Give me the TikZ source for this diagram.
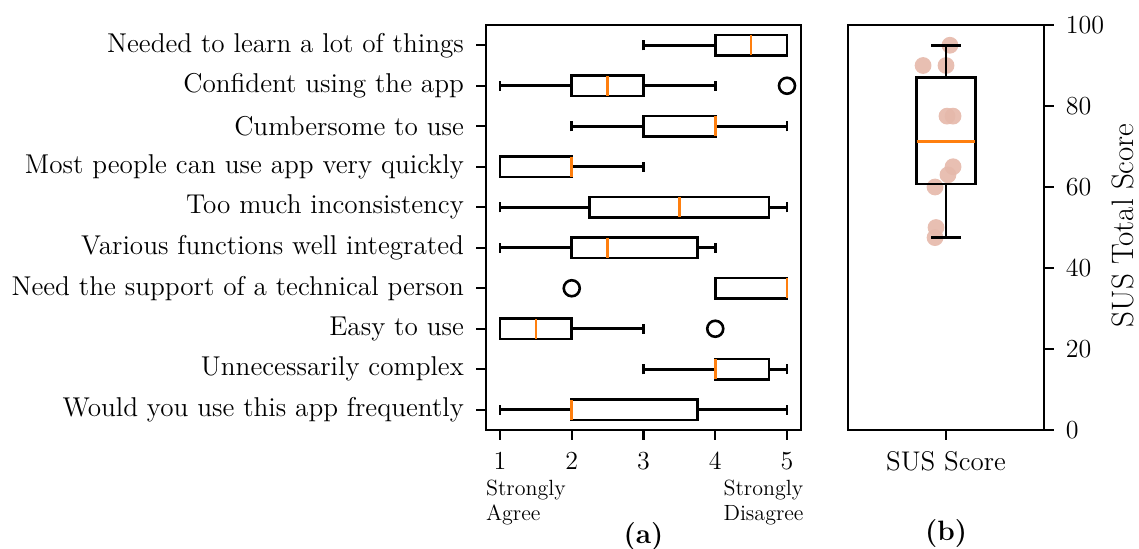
\documentclass[tikz,border=0pt]{standalone}
\definecolor{mplorange}{HTML}{FF7F0E}
\definecolor{dotpink}{RGB}{229,184,170}
\begin{document}
\begin{tikzpicture}[x=0.5pt,y=0.5pt]
    \tikzstyle{every node}=[font=\fontsize{13}{15}\selectfont]
    \tikzstyle{ax}=[line width=1.1pt]
    \tikzstyle{bx}=[line width=1.3pt]
    \tikzstyle{med}=[line width=1.3pt, mplorange]
    \tikzstyle{flier}=[line width=1.3pt, radius=4pt]
    \tikzstyle{endlab}=[anchor=north west, align=left, inner sep=0pt, font=\fontsize{11}{12.5}\selectfont]
    \useasboundingbox (0,0) rectangle (1139,548);
    % panel (a): questionnaire items
    \begin{scope}[shift={(428.25,97.75)}, x=35.875pt, y=20.25pt]
    \draw[ax] (0.8,0.5) rectangle (5.2,10.5);
    \foreach \v in {1,...,5}
        \draw[ax] (\v,0.5) -- ++(0,-5pt) node[below=2pt]{\v};
    \foreach \r/\lab in {1/Would you use this app frequently, 2/Unnecessarily complex,
        3/Easy to use, 4/Need the support of a technical person,
        5/Various functions well integrated, 6/Too much inconsistency,
        7/Most people can use app very quickly, 8/Cumbersome to use,
        9/Confident using the app, 10/Needed to learn a lot of things}
        \draw[ax] (0.8,\r) -- ++(-5pt,0) node[left=2pt, font=\fontsize{13.6}{15}\selectfont]{\lab};
    \foreach \r/\lw/\qa/\md/\qb/\uw in {1/1/2/2/3.75/5, 2/3/4/4/4.75/5, 3/1/1/1.5/2/3,
        4/4/4/5/5/5, 5/1/2/2.5/3.75/4, 6/1/2.25/3.5/4.75/5, 7/1/1/2/2/3,
        8/2/3/4/4/5, 9/1/2/2.5/3/4, 10/3/4/4.5/5/5} {
        \draw[bx] (\lw,\r) -- (\qa,\r) (\qb,\r) -- (\uw,\r);
        \draw[bx] (\lw,\r-0.125) -- (\lw,\r+0.125) (\uw,\r-0.125) -- (\uw,\r+0.125);
        \draw[bx] (\qa,\r-0.25) rectangle (\qb,\r+0.25);
        \draw[med] (\md,\r-0.25) -- (\md,\r+0.25);
    }
    \foreach \v/\r in {5/9, 2/4, 4/3}
        \draw[flier] (\v,\r) circle;
    \node[endlab] (agree) at (0.8,-0.72) {Strongly\\Agree};
    \node[endlab] (disagree) at (4.11,-0.72) {Strongly\\Disagree};
    \node[font=\fontsize{14}{16}\selectfont\bfseries] (capa) at (3,-2.12) {(a)};
    \end{scope}
    % panel (b): total score
    \begin{scope}[shift={(750,118)}, x=98pt, y=2.025pt]
    \foreach \px/\py in {0.883/90, 1.02/95, 1.0/90, 1.005/77.5, 1.036/77.5,
        1.036/65, 1.01/63, 0.944/60, 0.949/50, 0.944/47.5}
        \fill[dotpink, opacity=0.9] (\px,\py) circle[radius=4.2pt];
    \draw[ax] (0.5,0) rectangle (1.5,100);
    \foreach \v in {0,20,...,100}
        \draw[ax] (1.5,\v) -- ++(5pt,0) node[right=2pt]{\v};
    \draw[ax] (1,0) -- ++(0,-5pt) node[below=2pt, font=\fontsize{13.5}{15}\selectfont]{SUS Score};
    \draw[bx] (1,47.5) -- (1,60.7) (1,87) -- (1,95);
    \draw[bx] (0.925,47.5) -- (1.075,47.5) (0.925,95) -- (1.075,95);
    \draw[bx] (0.85,60.7) rectangle (1.15,87);
    \draw[med] (0.85,71.3) -- (1.15,71.3);
    \node[rotate=90, inner sep=1pt, font=\fontsize{15.5}{17}\selectfont] (ylab) at (1.9,50.5) {SUS Total Score};
    \node[font=\fontsize{14}{16}\selectfont\bfseries] (capb) at (1,-25.5) {(b)};
    \end{scope}
\end{tikzpicture}
\end{document}
